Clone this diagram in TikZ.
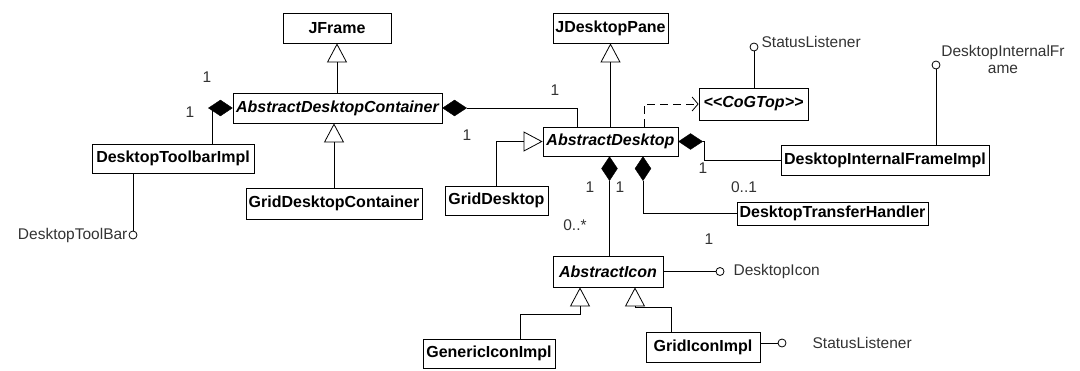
\documentclass[tikz,border=0pt]{standalone}
\usepackage{fontspec}
\setmainfont{Liberation Sans}
\usetikzlibrary{arrows.meta,shapes.geometric}

\begin{document}
\begin{tikzpicture}[x=1pt,y=-1pt,
  cls/.style={draw, line width=0.8pt, inner sep=1pt, fill=white,
    font=\fontsize{16}{18}\selectfont\bfseries},
  abst/.style={cls, font=\fontsize{16}{18}\selectfont\bfseries\itshape},
  conn/.style={line width=0.8pt},
  inh/.style={conn, -{Triangle[open, length=19pt, width=20pt]}},
  dep/.style={conn, dash pattern=on 8pt off 5pt, -{Straight Barb[length=6pt, width=14pt]}},
  comp/.style={diamond, draw, fill=black, inner sep=0pt, minimum width=24pt, minimum height=16pt},
  compv/.style={comp, minimum width=16pt, minimum height=24pt},
  lolli/.style={circle, draw, fill=white, inner sep=0pt, minimum size=8pt, line width=0.8pt},
  lbl/.style={font=\fontsize{15.5}{17}\selectfont, text=black!80, inner sep=1pt},
]
\useasboundingbox (0,0) rectangle (1080,370);

% classes
\node[cls,  minimum width=108pt, minimum height=30pt] (JFrame) at (337,28) {JFrame};
\node[cls,  minimum width=115pt, minimum height=30pt] (JDesktopPane) at (610.5,28) {JDesktopPane};
\node[abst, minimum width=209pt, minimum height=30pt] (ADC) at (337.5,108) {AbstractDesktopContainer};
\node[abst, minimum width=135pt, minimum height=29pt] (AD) at (610.5,141.5) {AbstractDesktop};
\node[abst, minimum width=109pt, minimum height=32pt] (CoGTop) at (753.5,104) {<{}<CoGTop>{}>};
\node[cls,  minimum width=208pt, minimum height=30pt] (DIFI) at (885,160) {DesktopInternalFrameImpl};
\node[cls,  minimum width=162pt, minimum height=29pt] (DTI) at (173,158.5) {DesktopToolbarImpl};
\node[cls,  minimum width=176pt, minimum height=31pt] (GDC) at (334,203.5) {GridDesktopContainer};
\node[cls,  minimum width=103pt, minimum height=29pt] (GD) at (496.5,200.5) {GridDesktop};
\node[cls,  minimum width=191pt, minimum height=23pt] (DTH) at (832.5,213.5) {DesktopTransferHandler};
\node[abst, minimum width=110pt, minimum height=31pt] (AI) at (608,271.5) {AbstractIcon};
\node[cls,  minimum width=132pt, minimum height=29pt] (GII) at (489,353.5) {GenericIconImpl};
\node[cls,  minimum width=114pt, minimum height=30pt] (GrII) at (703,347) {GridIconImpl};

% generalizations
\draw[inh] (ADC.north -| JFrame.south) -- (JFrame.south);
\draw[inh] (AD.north) -- (JDesktopPane.south);
\draw[inh] (GDC.north) -- (GDC.north |- ADC.south);
\draw[inh] (GD.north) |- (AD.west);
\coordinate (ga) at ([xshift=-28pt]AI.south);
\coordinate (gb) at ([xshift=27pt]AI.south);
\coordinate (gs1) at ([xshift=31pt]GII.north);
\coordinate (gs2) at ([xshift=-32pt]GrII.north);
\draw[inh] (gs1) -- ++(0,-24) -| (ga);
\draw[inh] (gs2) -- ++(0,-24) -| (gb);

% dependency
\coordinate (ds) at ([xshift=33.5pt]AD.north);
\draw[dep] (ds) |- (CoGTop.west);

% compositions
\node[comp, anchor=east] (d1) at (ADC.west) {};
\coordinate (t1) at ([xshift=4pt]d1.west);
\draw[conn] (t1) -- (t1 |- DTI.north);

\node[comp, anchor=west] (d2) at (ADC.east) {};
\coordinate (t2) at ([xshift=-33.5pt]AD.north);
\draw[conn] (d2.east) -| (t2);

\node[comp, anchor=west] (d3) at (AD.east) {};
\draw[conn] (d3.east) -- ++(2,0) |- (DIFI.west);

\node[compv, anchor=north] (d4) at ([xshift=-1pt]AD.south) {};
\draw[conn] (d4.south) -- (d4.south |- AI.north);

\node[compv, anchor=north] (d5) at ([xshift=32.5pt]AD.south) {};
\draw[conn] (d5.south) |- (DTH.west);

% provided interfaces
\node[lolli] (l1) at (133,235) {};
\draw[conn] (DTI.south -| l1) -- (l1.north);
\node[lbl, anchor=east] at (l1.west) {DesktopToolBar};

\node[lolli] (l2) at (754,47) {};
\draw[conn] (CoGTop.north -| l2) -- (l2.south);
\node[lbl, anchor=base west] at ([xshift=2pt]l2.east) {StatusListener};

\node[lolli] (l3) at (936,65) {};
\draw[conn] (DIFI.north -| l3) -- (l3.south);
\node[lbl, align=center] at (1003,59) {DesktopInternalFr\\ame};

\node[lolli] (l4) at (720,271.5) {};
\draw[conn] (AI.east) -- (l4.west);
\node[lbl, anchor=west] at ([xshift=8pt]l4.east) {DesktopIcon};

\node[lolli] (l5) at (782,343) {};
\draw[conn] (GrII.east |- l5) -- (l5.west);
\node[lbl, anchor=west] at ([xshift=25pt]l5.east) {StatusListener};

% multiplicities
\node[lbl] (m1) at (207,77) {1};
\node[lbl] (m2) at (190,112) {1};
\node[lbl] (m3) at (555,90) {1};
\node[lbl] (m4) at (467,135) {1};
\node[lbl] (m5) at (703,168) {1};
\node[lbl] (m6) at (744,187) {0..1};
\node[lbl] (m7) at (590,187) {1};
\node[lbl] (m8) at (620,187) {1};
\node[lbl] (m9) at (575,225) {0..*};
\node[lbl] (m10) at (709,239) {1};
\end{tikzpicture}
\end{document}
